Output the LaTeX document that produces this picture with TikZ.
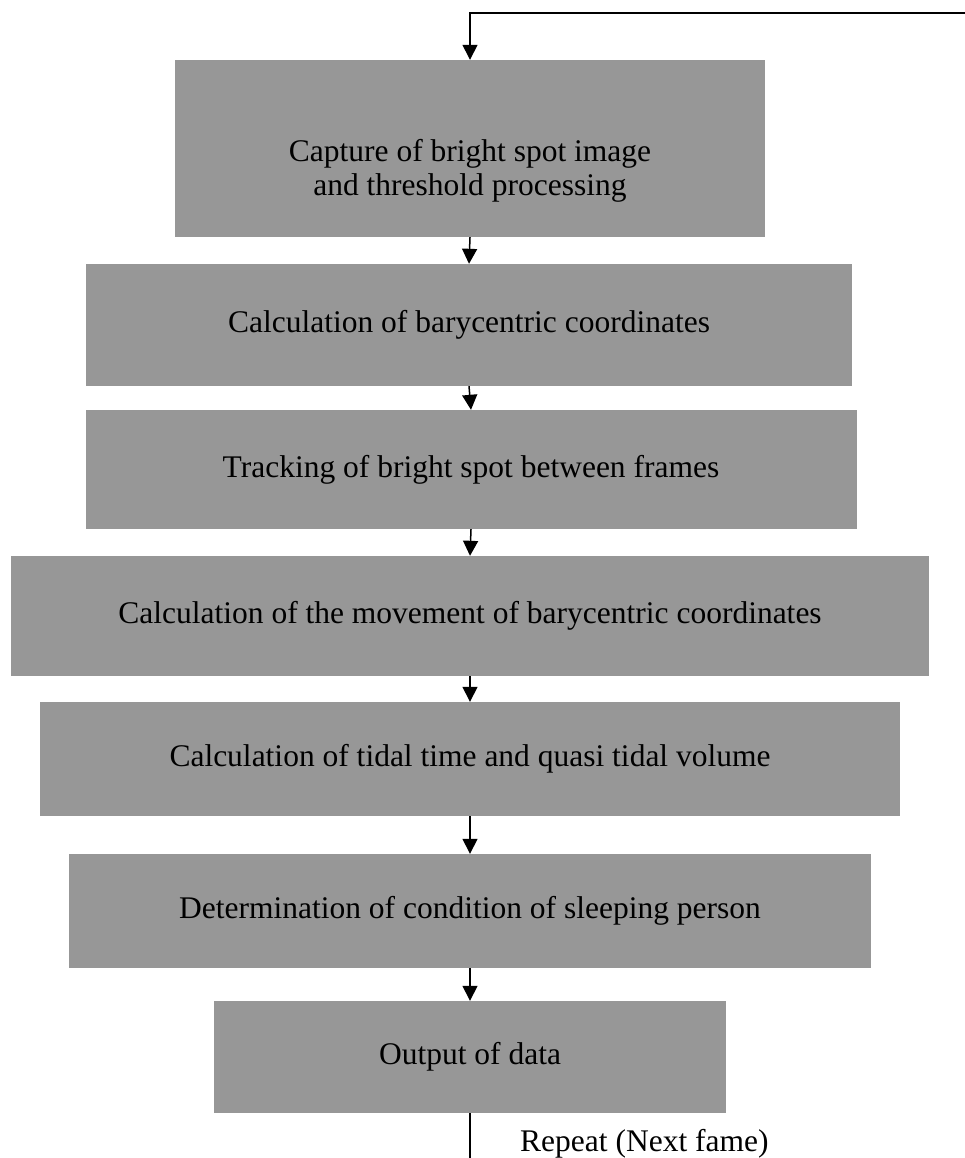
\documentclass[tikz,border=0pt]{standalone}
\usepackage{fontspec}
\setmainfont{Liberation Serif}
\usetikzlibrary{arrows.meta}
\definecolor{boxgray}{RGB}{151,151,151}
\begin{document}
\begin{tikzpicture}[x=1pt,y=-1pt,
  stepbox/.style={fill=boxgray, draw=none, inner sep=0pt, text=black, align=center,
    font=\fontsize{31.5}{36}\selectfont},
  flow/.style={line width=1.5pt, -{Triangle[length=15pt,width=15pt]}},
  plainline/.style={line width=1.5pt},
  note/.style={font=\fontsize{31.5}{34}\selectfont, inner sep=0pt, text=black}]
\useasboundingbox (0,0) rectangle (965,1158);
\node[stepbox, minimum width=590pt, minimum height=177pt,
  label={[note, align=center, yshift=-22pt]center:Capture of bright spot image\\and threshold processing}] (b1) at (470,148.5) {};
\node[stepbox, minimum width=766pt, minimum height=122pt] (b2) at (469,325)
  {Calculation of barycentric coordinates};
\node[stepbox, minimum width=771pt, minimum height=119pt] (b3) at (471,469.5)
  {Tracking of bright spot between frames};
\node[stepbox, minimum width=918pt, minimum height=120pt] (b4) at (470,616)
  {Calculation of the movement of barycentric coordinates};
\node[stepbox, minimum width=860pt, minimum height=114pt] (b5) at (470,759)
  {Calculation of tidal time and quasi tidal volume};
\node[stepbox, minimum width=802pt, minimum height=114pt] (b6) at (470,911)
  {Determination of condition of sleeping person};
\node[stepbox, minimum width=512pt, minimum height=112pt] (b7) at (470,1057)
  {Output of data};
\coordinate (topright) at (965,13);
\coordinate (bottomend) at (470,1158);
\node[note, anchor=base west] (rep) at (520,1151) {Repeat (Next fame)};
\draw[flow] (topright) -| (b1.north);
\draw[flow] (b1.south) -- (b2.north);
\draw[flow] (b2.south) -- (b3.north);
\draw[flow] (b3.south) -- (b4.north);
\draw[flow] (b4.south) -- (b5.north);
\draw[flow] (b5.south) -- (b6.north);
\draw[flow] (b6.south) -- (b7.north);
\draw[plainline] (b7.south) -- (bottomend);
\end{tikzpicture}
\end{document}
